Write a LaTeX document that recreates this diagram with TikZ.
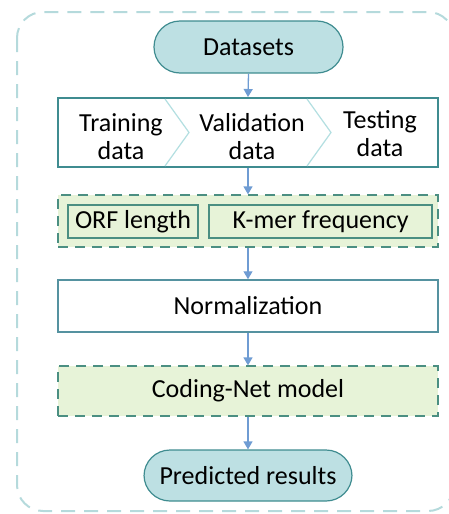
\documentclass[tikz,border=0pt]{standalone}
\usepackage{fontspec}
\setmainfont{Carlito}
\usetikzlibrary{arrows.meta,positioning}
\definecolor{tealfill}{HTML}{BDE0E3}
\definecolor{tealdark}{HTML}{3F8C90}
\definecolor{arrowc}{HTML}{6F9CD3}
\definecolor{chev}{HTML}{B3DFE1}
\definecolor{greenfill}{HTML}{E7F3D8}
\definecolor{greenline}{HTML}{4B8F82}
\definecolor{normline}{HTML}{5592A0}
\definecolor{outerc}{HTML}{B5DADC}
\tikzset{
  txt/.style={font=\fontsize{26}{28}\selectfont, text=black, align=center},
  terminal/.style={txt, draw=tealdark, fill=tealfill, line width=1.2pt, rounded corners=26pt, inner sep=0pt},
  plainbox/.style={txt, draw=normline, fill=white, line width=1.5pt, inner sep=0pt},
  greenbox/.style={txt, draw=greenline, fill=greenfill, line width=1.3pt, dash pattern=on 10pt off 7pt, inner sep=0pt},
  featbox/.style={txt, draw=greenline, fill=greenfill, line width=1.3pt, inner sep=0pt},
  flow/.style={draw=arrowc, line width=1.3pt, -{Triangle[length=8pt,width=9pt]}},
}
\begin{document}
\begin{tikzpicture}[x=1pt,y=-1pt]
\useasboundingbox (0,0) rectangle (449,514);
% outer dashed frame
\draw[outerc, line width=2pt, dash pattern=on 14pt off 9pt, rounded corners=26pt] (17,12) rectangle (454,511);
% nodes
\node[terminal, minimum width=189pt, minimum height=52pt] (ds) at (248.5,47) {Datasets};
\node[plainbox, draw=tealdark, line width=2pt, minimum width=380pt, minimum height=69pt] (split) at (248,132.5) {};
\draw[chev, line width=1.2pt] (165,99) -- (189,132.5) -- (165,166);
\draw[chev, line width=1.2pt] (307,99) -- (331,132.5) -- (307,166);
\node[txt] (tr) at (121,137) {Training\\data};
\node[txt] (va) at (252,137) {Validation\\data};
\node[txt] (te) at (380,134) {Testing\\data};
\node[greenbox, minimum width=380pt, minimum height=52pt] (feat) at (248,221) {};
\node[featbox, minimum width=130pt, minimum height=33pt] (orf) at (133,221.5) {ORF length};
\node[featbox, minimum width=223pt, minimum height=33pt] (kmer) at (320.5,221.5) {K-mer frequency};
\node[plainbox, minimum width=380pt, minimum height=52pt] (norm) at (248,306) {Normalization};
\node[greenbox, minimum width=380pt, minimum height=50pt] (cnet) at (248,391) {Coding-Net model};
\node[terminal, minimum width=208pt, minimum height=51pt] (pred) at (248,475.5) {Predicted results};
% connectors
\draw[flow] (ds.south) -- (split.north);
\draw[flow] (split.south) -- (feat.north);
\draw[flow] (feat.south) -- (norm.north);
\draw[flow] (norm.south) -- (cnet.north);
\draw[flow] (cnet.south) -- (pred.north);
\end{tikzpicture}
\end{document}
